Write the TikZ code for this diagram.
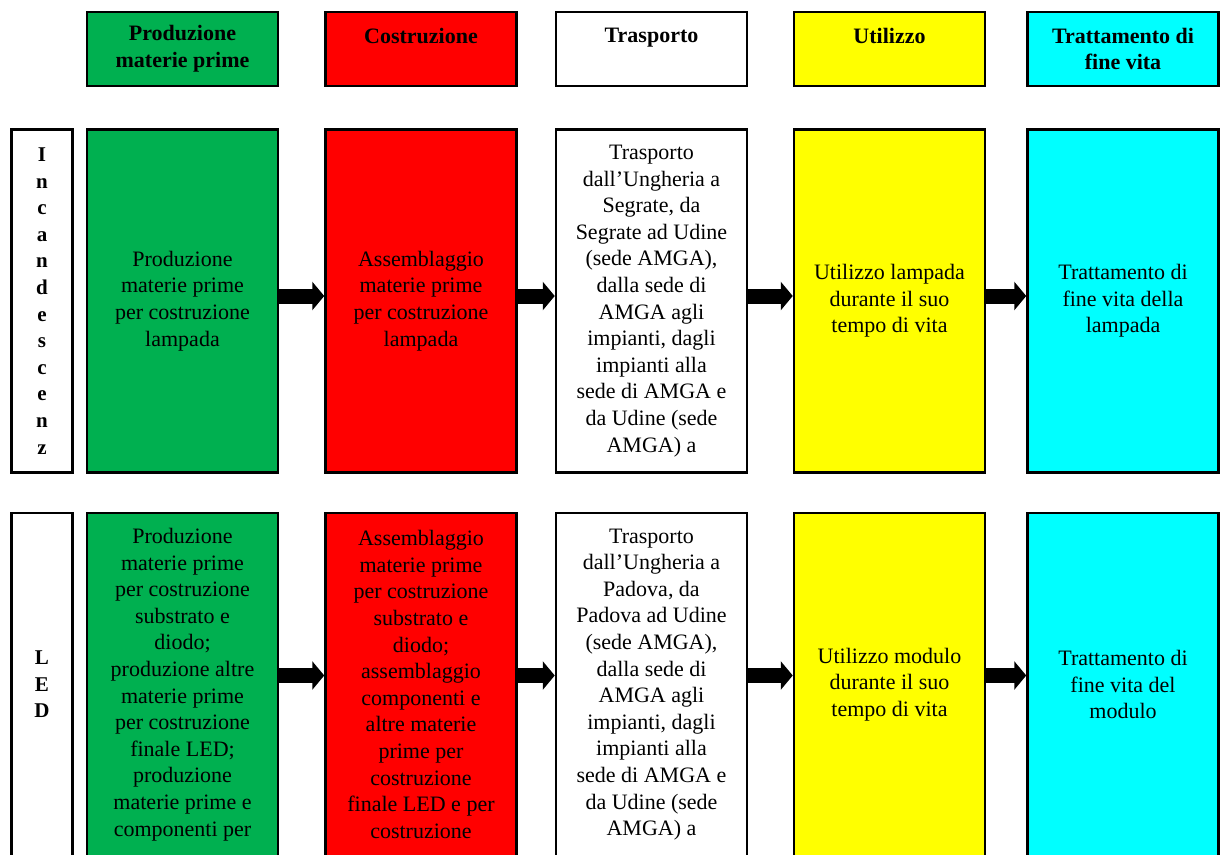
\documentclass[tikz,border=0pt]{standalone}
\usepackage{fontspec}
\setmainfont{Liberation Serif}
\usetikzlibrary{positioning,arrows.meta}
\definecolor{prodgreen}{HTML}{00B050}
\definecolor{costred}{HTML}{FF0000}
\definecolor{usoyellow}{HTML}{FFFF00}
\definecolor{finecyan}{HTML}{00FFFF}

\begin{document}
\begin{tikzpicture}[x=1pt,y=-1pt,
    base box/.style={draw,line width=2.5pt,align=center,inner sep=2pt,font=\fontsize{22}{26.6}\selectfont},
    head box/.style={base box,minimum width=191pt,minimum height=74pt,font=\fontsize{22}{26.6}\selectfont\bfseries},
    phase box/.style={base box,minimum width=191pt,minimum height=343pt},
    side box/.style={base box,fill=white,minimum width=61pt,minimum height=343pt,font=\fontsize{21}{26.6}\selectfont\bfseries},
    flow/.style={line width=15pt,-{Triangle[length=12pt,width=28pt]}}]

\useasboundingbox (0,0) rectangle (1220,854);

% intestazioni delle fasi
\node[head box,fill=prodgreen] (hprod) at (182.5,49) {Produzione\\materie prime};
\node[head box,fill=costred]   (hcost) at (421,49)   {Costruzione\\\mbox{}};
\node[head box,fill=white]     (htras) at (651.5,49) {Trasporto\\\mbox{}};
\node[head box,fill=usoyellow] (hutil) at (889.5,49) {Utilizzo\\\mbox{}};
\node[head box,fill=finecyan]  (hfine) at (1123,49)  {Trattamento di\\fine vita};

% lampada a incandescenza
\node[phase box,fill=prodgreen] [below=41pt of hprod] (prod1) {Produzione\\materie prime\\per costruzione\\lampada};
\node[phase box,fill=costred]   [below=41pt of hcost] (cost1) {Assemblaggio\\materie prime\\per costruzione\\lampada};
\node[phase box,fill=white]     [below=41pt of htras] (tras1) {Trasporto\\dall’Ungheria a\\Segrate, da\\Segrate ad Udine\\(sede AMGA),\\dalla sede di\\AMGA agli\\impianti, dagli\\impianti alla\\sede di AMGA e\\da Udine (sede\\AMGA) a};
\node[phase box,fill=usoyellow] [below=41pt of hutil] (util1) {Utilizzo lampada\\durante il suo\\tempo di vita};
\node[phase box,fill=finecyan]  [below=41pt of hfine] (fine1) {Trattamento di\\fine vita della\\lampada};
\node[side box] [left=12pt of prod1] (inc) {I\\n\\c\\a\\n\\d\\e\\s\\c\\e\\n\\z};

% modulo LED
\node[phase box,fill=prodgreen] [below=38pt of prod1] (prod2) {Produzione\\materie prime\\per costruzione\\substrato e\\diodo;\\produzione altre\\materie prime\\per costruzione\\finale LED;\\produzione\\materie prime e\\componenti per};
\node[phase box,fill=costred]   [below=38pt of cost1] (cost2) {Assemblaggio\\materie prime\\per costruzione\\substrato e\\diodo;\\assemblaggio\\componenti e\\altre materie\\prime per\\costruzione\\finale LED e per\\costruzione};
\node[phase box,fill=white]     [below=38pt of tras1] (tras2) {Trasporto\\dall’Ungheria a\\Padova, da\\Padova ad Udine\\(sede AMGA),\\dalla sede di\\AMGA agli\\impianti, dagli\\impianti alla\\sede di AMGA e\\da Udine (sede\\AMGA) a};
\node[phase box,fill=usoyellow] [below=38pt of util1] (util2) {Utilizzo modulo\\durante il suo\\tempo di vita};
\node[phase box,fill=finecyan]  [below=38pt of fine1] (fine2) {Trattamento di\\fine vita del\\modulo};
\node[side box] [left=12pt of prod2] (led) {L\\E\\D};

% frecce
\foreach \a/\b in {prod1/cost1,cost1/tras1,tras1/util1,util1/fine1}
  \draw[flow] ([yshift=5pt]\a.east) -- ([yshift=5pt]\b.west);
\foreach \a/\b in {prod2/cost2,cost2/tras2,tras2/util2,util2/fine2}
  \draw[flow] ([yshift=9pt]\a.east) -- ([yshift=9pt]\b.west);

\end{tikzpicture}
\end{document}
